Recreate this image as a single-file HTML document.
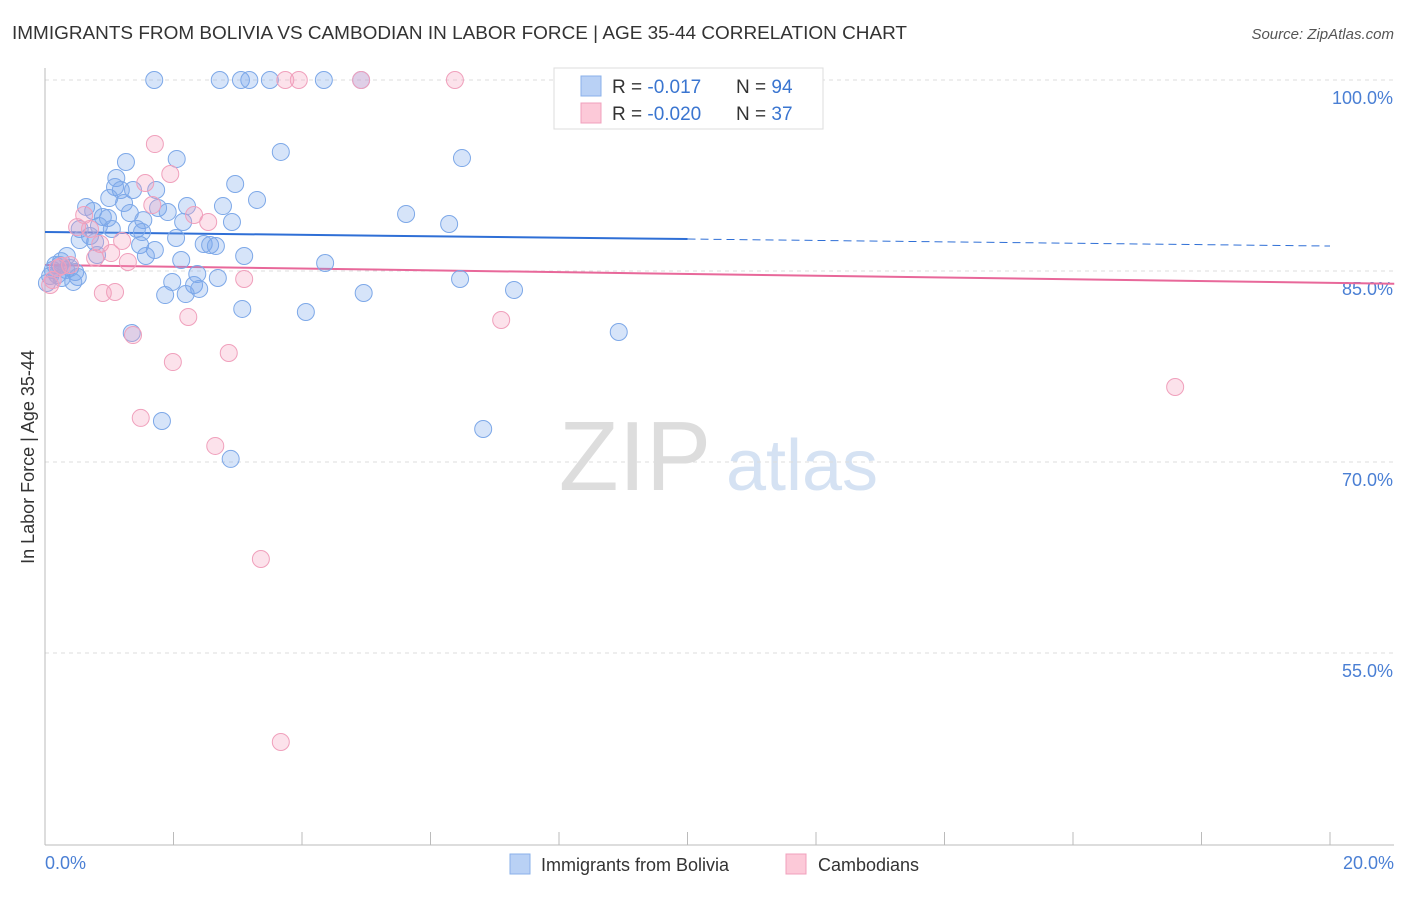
<!DOCTYPE html>
<html><head><meta charset="utf-8"><style>
body{margin:0;background:#fff;font-family:"Liberation Sans",sans-serif;}
svg text{font-family:"Liberation Sans",sans-serif;}
</style></head><body>
<svg id="chart" width="1406" height="892">
<text x="12" y="39" font-size="18" fill="#333" textLength="895" lengthAdjust="spacingAndGlyphs">IMMIGRANTS FROM BOLIVIA VS CAMBODIAN IN LABOR FORCE | AGE 35-44 CORRELATION CHART</text>
<text x="1394" y="39" font-size="15" fill="#555" font-style="italic" text-anchor="end">Source: ZipAtlas.com</text>
<g><text x="635" y="490" font-size="98" fill="#ddd" text-anchor="middle" font-family="Liberation Serif">ZIP</text><text x="802" y="490" font-size="72" fill="#d5e2f3" text-anchor="middle">atlas</text></g>
<g id="grid"></g><g id="axes"></g><g id="trend"></g><g id="pts"></g>
<text transform="translate(34,457) rotate(-90)" font-size="18" fill="#333" text-anchor="middle">In Labor Force | Age 35-44</text>
<text x="45" y="869" font-size="18" fill="#4a7fd4">0.0%</text>
<text x="1394" y="869" font-size="18" fill="#4a7fd4" text-anchor="end">20.0%</text>
<g>
<rect x="554" y="68" width="269" height="61" fill="#fff" stroke="#ddd"/>
<rect x="581" y="76" width="20" height="20" fill="#b9d1f5" stroke="#8ab0ea"/>
<rect x="581" y="103" width="20" height="20" fill="#fcc9d8" stroke="#f0a0bc"/>
<text x="612" y="93" font-size="19" fill="#333">R = <tspan fill="#3a75d0"> -0.017</tspan><tspan x="736">N = </tspan><tspan fill="#3a75d0">94</tspan></text>
<text x="612" y="120" font-size="19" fill="#333">R = <tspan fill="#3a75d0">-0.020</tspan><tspan x="736">N = </tspan><tspan fill="#3a75d0">37</tspan></text>
</g>
<g>
<rect x="510" y="854" width="20" height="20" fill="#b9d1f5" stroke="#8ab0ea"/>
<text x="541" y="871" font-size="18" fill="#333">Immigrants from Bolivia</text>
<rect x="786" y="854" width="20" height="20" fill="#fcc9d8" stroke="#f0a0bc"/>
<text x="818" y="871" font-size="18" fill="#333">Cambodians</text>
</g>
</svg>
<script>
const yTicks=[100,85,70,55];
const yTickLabels=["100.0%","85.0%","70.0%","55.0%"];
const blueX=[1.70,2.72,3.05,3.18,3.50,4.34,4.92,1.26,2.05,3.67,6.49,1.11,1.73,2.96,3.30,1.09,1.18,1.37,1.00,1.23,0.64,0.75,0.90,0.98,1.32,1.53,1.76,1.91,2.21,2.77,2.91,2.15,5.62,6.29,0.54,0.70,0.84,1.04,1.43,1.51,0.78,0.54,2.04,2.47,2.57,2.66,1.48,1.71,1.57,3.10,2.12,4.36,0.34,0.25,0.12,0.19,0.47,0.51,0.44,2.37,2.69,1.98,6.46,2.32,2.40,1.87,2.19,4.96,7.30,3.07,4.06,1.35,8.93,1.82,6.82,2.89,0.81,0.08,0.03,0.23,0.33,0.16,0.39,0.26];
const blueY=[100,100,100,100,100,100,100,93.56,93.8,94.35,93.87,92.3,91.36,91.83,90.58,91.6,91.36,91.36,90.73,90.34,90.03,89.71,89.24,89.16,89.55,89.0,89.95,89.63,90.1,90.1,88.85,88.85,89.48,88.69,88.3,87.75,88.53,88.3,88.3,88.06,87.28,87.43,87.59,87.12,87.04,86.96,87.04,86.65,86.18,86.18,85.86,85.63,86.18,85.78,85.08,84.69,84.92,84.53,84.14,84.76,84.45,84.14,84.37,83.9,83.59,83.11,83.19,83.27,83.51,82.02,81.78,80.13,80.21,73.22,72.59,70.24,86.26,84.61,84.06,85.47,85.08,85.47,85.24,84.45];
const pinkX=[3.74,3.95,4.92,6.38,8.64,1.71,1.95,1.56,1.67,2.32,2.54,0.61,0.50,0.70,0.86,1.20,1.03,1.29,0.78,0.26,0.20,0.39,0.12,0.90,1.09,3.10,2.23,1.37,7.10,1.99,2.86,1.49,2.65,3.36,3.67,17.59,0.08];
const pinkY=[100,100,100,100,100,94.97,92.62,91.91,90.18,89.4,88.85,89.4,88.45,88.3,87.12,87.36,86.41,85.71,86.02,85.39,85.24,85.47,84.29,83.27,83.35,84.37,81.39,79.97,81.15,77.85,78.56,73.46,71.26,62.38,48.01,75.89,83.9];
const blueTrend=[88.06,86.96];
const pinkTrend=[85.47,84.0];
const NS="http://www.w3.org/2000/svg";
const xs=v=>45+v*64.25;
const ys=v=>80+(100-v)*12.733;
function mk(t,a,p){const e=document.createElementNS(NS,t);for(const k in a)e.setAttribute(k,a[k]);p.appendChild(e);return e;}
const grid=document.getElementById('grid');
yTicks.forEach((t,i)=>{
 const l=mk('line',{x1:45,x2:1394,y1:ys(t),y2:ys(t),stroke:'#ddd','stroke-dasharray':'4,4'},grid);
 
 
 const tx=mk('text',{x:1393,y:ys(t)+24,'font-size':18,fill:'#4a7fd4','text-anchor':'end'},grid);
 tx.textContent=yTickLabels[i];
 
 
});
const ax=document.getElementById('axes');
const ya=mk('line',{x1:45,x2:45,y1:68,y2:845,stroke:'#bbb'},ax);


const xa=mk('line',{x1:45,x2:1394,y1:845,y2:845,stroke:'#bbb'},ax);


for(let i=0;i<=10;i++){const tk=mk('line',{x1:xs(i*2),x2:xs(i*2),y1:832,y2:845,stroke:'#bbb'},ax);
 
 }
const pts=document.getElementById('pts');
blueX.forEach((x,i)=>{const c=mk('circle',{cx:xs(x),cy:ys(blueY[i]),r:8.5,fill:'rgba(120,165,235,0.3)',stroke:'#7da8e8','stroke-width':1},pts);
 
 });
pinkX.forEach((x,i)=>{const c=mk('circle',{cx:xs(x),cy:ys(pinkY[i]),r:8.5,fill:'rgba(245,160,190,0.3)',stroke:'#f0a0bc','stroke-width':1},pts);
 
 });
const tr=document.getElementById('trend');
const bAt=x=>blueTrend[0]+(blueTrend[1]-blueTrend[0])*x/20;
const b1=mk('line',{x1:xs(0),y1:ys(bAt(0)),x2:xs(10),y2:ys(bAt(10)),stroke:'#2f6fd6','stroke-width':2},tr);


const b2=mk('line',{x1:xs(10),y1:ys(bAt(10)),x2:xs(20),y2:ys(bAt(20)),stroke:'#2f6fd6','stroke-width':1,'stroke-dasharray':'8,5'},tr);


const p1=mk('line',{x1:xs(0),y1:ys(pinkTrend[0]),x2:xs(21),y2:ys(pinkTrend[1]),stroke:'#e8689a','stroke-width':2},tr);


</script>
</body></html>
